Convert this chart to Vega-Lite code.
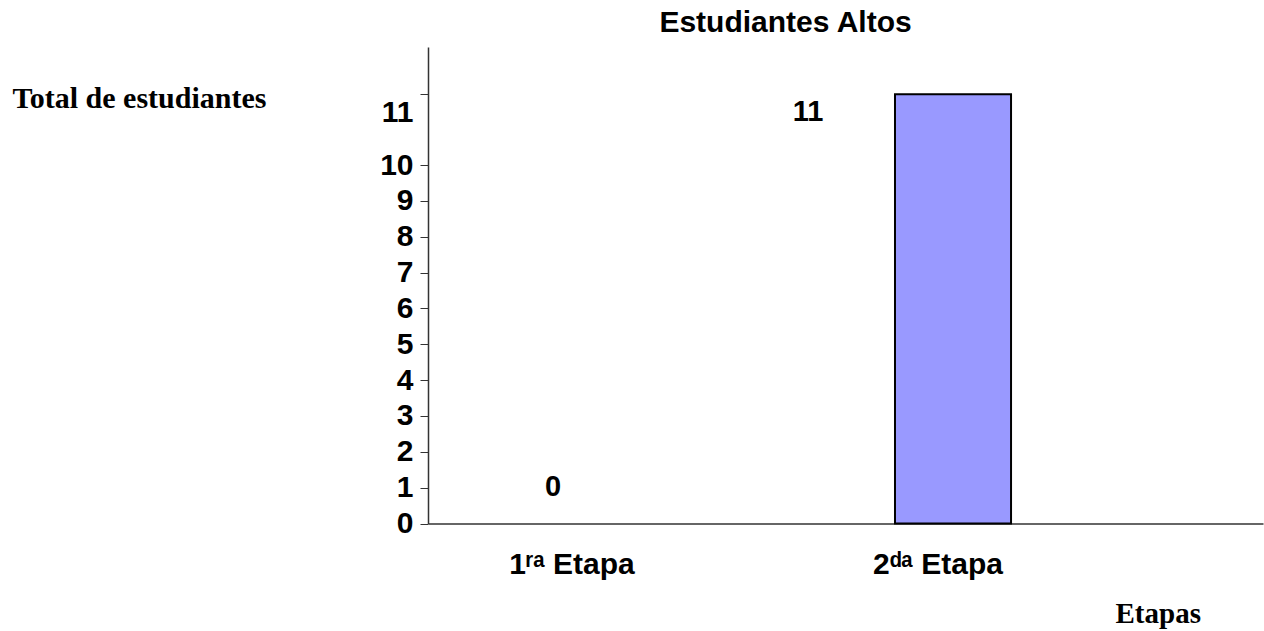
{
  "$schema": "https://vega.github.io/schema/vega-lite/v6.json",
  "autosize": {"type": "none"},
  "padding": {"left": 428, "top": 47, "right": 1, "bottom": 107.5},
  "width": 835,
  "height": 476.5,
  "background": "white",
  "title": {
    "text": "Estudiantes Altos",
    "font": "Liberation Sans",
    "fontSize": 30,
    "fontWeight": "bold",
    "color": "black",
    "anchor": "middle",
    "dx": -60,
    "dy": 31,
    "baseline": "alphabetic",
    "offset": 16
  },
  "data": {
    "values": [
      {"etapa": "1ʳᵃ Etapa", "total": 0},
      {"etapa": "2ᵈᵃ Etapa", "total": 11}
    ]
  },
  "encoding": {
    "x": {
      "field": "etapa",
      "type": "nominal",
      "sort": null,
      "scale": {"paddingInner": 0.683, "paddingOuter": 0.482, "align": 0.286},
      "axis": {
        "title": "Etapas",
        "titleFont": "Liberation Serif",
        "titleFontSize": 29,
        "titleFontWeight": "bold",
        "titleColor": "black",
        "titleAngle": 0,
        "titleAlign": "left",
        "titleBaseline": "alphabetic",
        "titleX": 687,
        "titleY": 98.5,
        "labelAngle": 0,
        "labelFont": "Liberation Sans",
        "labelFontSize": 30,
        "labelFontWeight": "bold",
        "labelColor": "black",
        "labelBaseline": "alphabetic",
        "labelPadding": 49.5,
        "labelOffset": -15,
        "ticks": false,
        "domainColor": "#333333",
        "domainWidth": 1.5
      }
    },
    "y": {
      "field": "total",
      "type": "quantitative",
      "scale": {"domain": [0, 10, 11, 11.67], "range": [476.5, 118, 47.3, 0], "zero": false, "nice": false},
      "axis": {
        "values": [0, 1, 2, 3, 4, 5, 6, 7, 8, 9, 10, 11],
        "title": "Total de estudiantes",
        "titleFont": "Liberation Serif",
        "titleFontSize": 30,
        "titleFontWeight": "bold",
        "titleColor": "black",
        "titleAngle": 0,
        "titleAlign": "left",
        "titleBaseline": "alphabetic",
        "titleX": -416,
        "titleY": 60,
        "labelFont": "Liberation Sans",
        "labelFontSize": 30,
        "labelFontWeight": "bold",
        "labelColor": "black",
        "labelPadding": 7,
        "labelOffset": {"condition": {"test": "datum.value == 11", "value": 18}, "value": 0},
        "tickSize": 8,
        "tickColor": "#333333",
        "domainColor": "#333333",
        "domainWidth": 1.5,
        "grid": false
      }
    }
  },
  "layer": [
    {
      "mark": {"type": "bar", "fill": "#9999FF", "stroke": "black", "strokeWidth": 2},
      "encoding": {
        "strokeOpacity": {"condition": {"test": "datum.total == 0", "value": 0}, "value": 1}
      }
    },
    {
      "transform": [{"filter": "datum.total == 11"}],
      "mark": {"type": "text", "font": "Liberation Sans", "fontSize": 29, "fontWeight": "bold", "color": "black", "dx": -145, "dy": 18, "baseline": "middle"},
      "encoding": {"text": {"field": "total", "type": "quantitative"}}
    },
    {
      "transform": [{"filter": "datum.total == 0"}],
      "mark": {"type": "text", "font": "Liberation Sans", "fontSize": 29, "fontWeight": "bold", "color": "black", "dx": -34, "dy": -36.5, "baseline": "middle"},
      "encoding": {"text": {"field": "total", "type": "quantitative"}}
    }
  ],
  "config": {"view": {"stroke": null}}
}
